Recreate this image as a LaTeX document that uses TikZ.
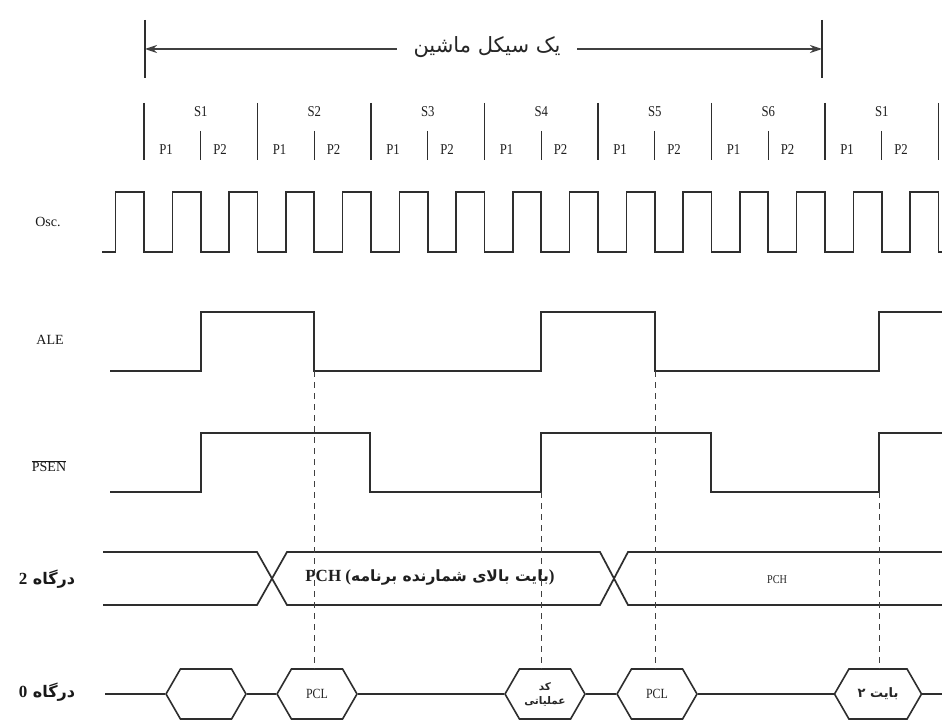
\documentclass[tikz,border=0pt]{standalone}
\usepackage{fontspec}
\setmainfont{Liberation Serif}
\newfontfamily\cond[FakeStretch=0.85]{Liberation Serif}
\newfontfamily\fa[Script=Arabic]{DejaVu Sans}
\TeXXeTstate=1
\usetikzlibrary{arrows.meta,shapes.symbols}
\begin{document}
\begin{tikzpicture}[x=1pt,y=-1pt,
  sig/.style={line width=1.7pt,draw=black!82,line join=miter},
  tickln/.style={line width=1.4pt,draw=black!82},
  lbl/.style={font=\fontsize{14}{15}\selectfont,text=black!90,inner sep=0pt},
  slbl/.style={font=\cond\fontsize{15}{16}\selectfont,text=black!88,inner sep=0pt},
  falbl/.style={font=\fa\bfseries\fontsize{16}{17}\selectfont,text=black!90,inner sep=0pt},
  guide/.style={line width=0.9pt,draw=black!75,dash pattern=on 6pt off 5pt},
  hexa/.style={signal,signal to=east and west,signal pointer angle=120,draw=black!82,
    line width=1.6pt,minimum width=80pt,minimum height=50pt,inner sep=0pt,
    font=\cond\fontsize{14}{15}\selectfont,text=black!85},
]
\useasboundingbox (0,0) rectangle (942,727);
\fill[white] (0,0) rectangle (942,727);

% machine cycle header
\node[inner sep=0pt,minimum width=180pt,minimum height=24pt,
  font=\fa\fontsize{21}{22}\selectfont,text=black!85] (cyc) at (487,47) {\beginR یک سیکل ماشین\endR};
\coordinate (cl) at (145,49);
\coordinate (cr) at (822,49);
\draw[line width=1.4pt,draw=black!75,-{Stealth[length=12pt,width=8pt]}] (cyc.west |- cl) -- (cl);
\draw[line width=1.4pt,draw=black!75,-{Stealth[length=12pt,width=8pt]}] (cyc.east |- cr) -- (cr);
\draw[tickln] (145,20) -- (145,78);
\draw[tickln] (822,20) -- (822,78);

% state / phase row
\foreach \k in {0,...,7} { \draw[tickln] ({144+113.5*\k},103) -- ++(0,57); }
\foreach \k/\s in {0/S1,1/S2,2/S3,3/S4,4/S5,5/S6,6/S1} {
  \draw[tickln] ({200.75+113.5*\k},131) -- ++(0,29);
  \node[slbl] (s\k) at ({200.75+113.5*\k},112) {\s};
  \node[slbl] (pa\k) at ({166+113.5*\k},150) {P1};
  \node[slbl] (pb\k) at ({220+113.5*\k},150) {P2};
}

% signal labels
\node[lbl] (osc) at (48,222) {Osc.};
\node[lbl] (ale) at (50,340) {ALE};
\node[lbl] (psen) at (49,466) {$\overline{\hbox{PSEN}}$};
\node[falbl] (p2) at (47,579) {\beginR درگاه {\rmfamily\bfseries\fontsize{17}{17}\selectfont 2}\endR};
\node[falbl] (p0) at (47,692) {\beginR درگاه {\rmfamily\bfseries\fontsize{17}{17}\selectfont 0}\endR};

% oscillator
\draw[sig] (102,252) \foreach \k in {0,...,14} {
  -- ({115.6+56.75*\k},252) -- ({115.6+56.75*\k},192)
  -- ({144+56.75*\k},192) -- ({144+56.75*\k},252) } -- (942,252);

% ALE
\coordinate (a1) at (314,371);
\coordinate (a2) at (655,371);
\draw[sig] (110,371) -- (201,371) -- (201,312) -- (314,312) -- (a1) -- (541,371)
  -- (541,312) -- (655,312) -- (a2) -- (879,371) -- (879,312) -- (942,312);

% PSEN
\coordinate (b1) at (541,492);
\coordinate (b2) at (879,492);
\draw[sig] (110,492) -- (201,492) -- (201,433) -- (370,433) -- (370,492) -- (b1)
  -- (541,433) -- (711,433) -- (711,492) -- (b2) -- (879,433) -- (942,433);

% port 2 bus
\draw[sig] (103,552) -- (257,552) -- (287,605) -- (600,605) -- (628,552) -- (942,552);
\draw[sig] (103,605) -- (257,605) -- (287,552) -- (600,552) -- (628,605) -- (942,605);
\node[inner sep=0pt,font=\bfseries\fontsize{17}{18}\selectfont,text=black!88] (pch1) at (430,577)
  {PCH ({\fa\fontsize{15.5}{16}\selectfont\beginR بایت بالای شمارنده برنامه\endR})};
\node[inner sep=0pt,font=\cond\fontsize{12}{13}\selectfont,text=black!85] (pch2) at (777,580) {PCH};

% port 0 bus
\node[hexa] (h1) at (206,694) {};
\node[hexa] (h2) at (317,694) {PCL};
\node[hexa,font=\fa\bfseries\fontsize{10.5}{13}\selectfont,align=center] (h3) at (545,694) {کد\\[1pt]عملیاتی};
\node[hexa,minimum width=87pt,font=\fa\bfseries\fontsize{13}{14}\selectfont] (h5) at (878,694) {\beginR بایت ۲\endR};
\node[hexa] (h4) at (657,694) {PCL};
\coordinate (p0s) at (105,694);
\coordinate (p0e) at (942,694);
\draw[sig] (p0s) -- (h1.west);
\draw[sig] (h1.east) -- (h2.west);
\draw[sig] (h2.east) -- (h3.west);
\draw[sig] (h3.east) -- (h4.west);
\draw[sig] (h4.east) -- (h5.west);
\draw[sig] (h5.east) -- (p0e);

% dashed guides
\draw[guide] (a1) -- (a1 |- h2.north);
\draw[guide] (b1) -- (b1 |- h3.north);
\draw[guide] (a2) -- (a2 |- h4.north);
\draw[guide] (b2) -- (b2 |- h5.north);
\end{tikzpicture}
\end{document}
